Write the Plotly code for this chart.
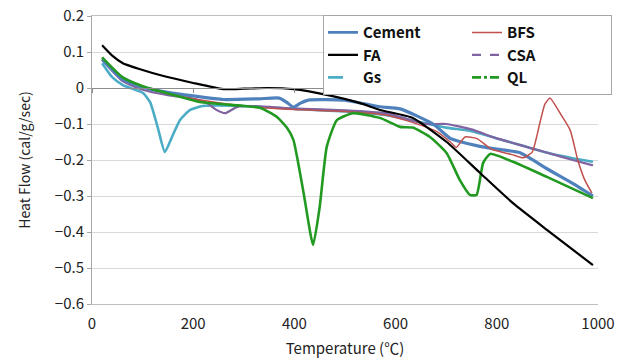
import plotly.graph_objects as go

# ---- data ----
cement_T = [20, 60, 100, 150, 200, 260, 330, 370, 385, 398, 412, 430, 500, 569, 609, 674, 708, 730, 760, 800, 846, 900, 950, 990]
cement_y = [0.080, 0.025, 0.002, -0.012, -0.022, -0.032, -0.030, -0.028, -0.040, -0.053, -0.042, -0.033, -0.034, -0.052, -0.058, -0.100, -0.140, -0.150, -0.160, -0.170, -0.180, -0.225, -0.265, -0.300]

bfs_T = [20, 60, 100, 150, 200, 300, 400, 500, 580, 620, 680, 708, 720, 737, 760, 790, 830, 852, 870, 885, 895, 905, 925, 945, 960, 974, 988]
bfs_y = [0.085, 0.030, 0.005, -0.015, -0.030, -0.050, -0.060, -0.065, -0.075, -0.090, -0.120, -0.150, -0.165, -0.136, -0.140, -0.170, -0.185, -0.194, -0.178, -0.098, -0.045, -0.028, -0.070, -0.117, -0.200, -0.256, -0.292]

fa_T = [20, 40, 61, 100, 134, 200, 259, 300, 346, 398, 464, 530, 569, 634, 701, 767, 832, 899, 990]
fa_y = [0.119, 0.090, 0.069, 0.050, 0.036, 0.014, -0.003, -0.002, 0.000, -0.003, -0.019, -0.042, -0.061, -0.083, -0.150, -0.236, -0.320, -0.394, -0.492]

csa_T = [20, 60, 100, 150, 200, 227, 245, 263, 286, 320, 400, 500, 580, 620, 660, 700, 750, 800, 850, 900, 950, 990]
csa_y = [0.078, 0.020, -0.005, -0.020, -0.030, -0.042, -0.060, -0.070, -0.053, -0.050, -0.057, -0.062, -0.070, -0.085, -0.100, -0.100, -0.115, -0.140, -0.160, -0.180, -0.200, -0.215]

gs_T = [20, 40, 61, 101, 115, 130, 144, 160, 174, 194, 219, 300, 400, 500, 580, 650, 700, 750, 800, 850, 900, 950, 990]
gs_y = [0.069, 0.030, 0.008, -0.014, -0.040, -0.110, -0.178, -0.130, -0.089, -0.061, -0.050, -0.050, -0.058, -0.065, -0.075, -0.095, -0.110, -0.120, -0.140, -0.160, -0.180, -0.195, -0.205]

ql_T = [20, 60, 100, 150, 213, 300, 332, 365, 385, 398, 418, 437, 450, 464, 484, 516, 569, 609, 634, 668, 701, 727, 747, 760, 773, 787, 832, 899, 990]
ql_y = [0.085, 0.030, 0.005, -0.015, -0.039, -0.050, -0.055, -0.080, -0.110, -0.144, -0.290, -0.436, -0.330, -0.163, -0.089, -0.070, -0.083, -0.108, -0.110, -0.136, -0.181, -0.256, -0.297, -0.297, -0.208, -0.183, -0.205, -0.247, -0.306]

x_ticks = [0, 200, 400, 600, 800, 1000]
y_ticks = [0.2, 0.1, 0, -0.1, -0.2, -0.3, -0.4, -0.5, -0.6]
y_tick_text = ["0.2", "0.1", "0", "−0.1", "−0.2", "−0.3", "−0.4", "−0.5", "−0.6"]

# name, T, y, colour, width, legend dash, legend column
series = [
    ("Cement", cement_T, cement_y, "#4F81BD", 3.2, "solid", "c1"),
    ("FA", fa_T, fa_y, "#000000", 2.2, "solid", "c1"),
    ("Gs", gs_T, gs_y, "#4BACC6", 2.6, "longdash", "c1"),
    ("BFS", bfs_T, bfs_y, "#C0504D", 1.5, "solid", "c2"),
    ("CSA", csa_T, csa_y, "#8064A2", 2.2, "dash", "c2"),
    ("QL", ql_T, ql_y, "#229A22", 2.6, "dashdot", "c2"),
]

FONT = "Noto Sans CJK KR"
fig = go.Figure()

draw_order = ["Gs", "CSA", "Cement", "BFS", "QL", "FA"]
lookup = {s[0]: s for s in series}
for name in draw_order:
    n, T, y, c, w, d, g = lookup[name]
    fig.add_trace(go.Scatter(x=T, y=y, mode="lines", line=dict(color=c, width=w, shape="spline", smoothing=0.5),
                             showlegend=False, hoverinfo="skip"))

for n, T, y, c, w, d, g in series:
    fig.add_trace(go.Scatter(x=[None], y=[None], mode="lines", name=n, legendgroup=g,
                             line=dict(color=c, width=min(w, 2.6), dash=d)))

fig.add_trace(go.Scatter(x=[None], y=[None], xaxis="x2", showlegend=False))

# soft shadow behind the legend box (paper coordinates)
fig.add_shape(type="rect", xref="paper", yref="paper",
              x0=(327 - 92) / 506, x1=(601 - 92) / 506, y0=(304 - 92) / 288, y1=(304 - 19) / 288,
              fillcolor="#A8A8A8", line=dict(width=0), layer="above")

fig.update_layout(
    width=632, height=363,
    margin=dict(l=92, r=34, t=16, b=59, autoexpand=False),
    paper_bgcolor="white", plot_bgcolor="white",
    font=dict(family=FONT, color="#222222"),
    xaxis=dict(range=[0, 1000], tickvals=x_ticks, ticks="", showgrid=False, zeroline=False,
               showline=True, linecolor="#BFBFBF", linewidth=1, mirror=True, ticklabelstandoff=6,
               tickfont=dict(size=15, family=FONT, color="#222222"),
               title=dict(text="Temperature (℃)", font=dict(size=15, family=FONT, color="#222222"), standoff=11)),
    xaxis2=dict(range=[0, 1000], tickvals=x_ticks, overlaying="x", anchor="free", position=0.75,
                side="bottom", showticklabels=False, ticks="outside", ticklen=4, tickcolor="#8C8C8C",
                showline=True, linecolor="#8C8C8C", linewidth=1, showgrid=False, zeroline=False),
    yaxis=dict(range=[-0.6, 0.2], tickvals=y_ticks, ticktext=y_tick_text,
               showgrid=True, gridcolor="#D9D9D9", gridwidth=1, zeroline=False,
               showline=True, linecolor="#A6A6A6", linewidth=1, ticks="outside", ticklen=4, tickcolor="#A6A6A6",
               tickfont=dict(size=15, family=FONT, color="#222222"),
               title=dict(text="Heat Flow (cal/g/sec)", font=dict(size=14, family=FONT, color="#222222"), standoff=20)),
    legend=dict(orientation="h", traceorder="grouped", x=(323 - 92) / 506, y=1.003, xanchor="left", yanchor="top",
                bgcolor="white", bordercolor="#A6A6A6", borderwidth=1,
                entrywidth=99, entrywidthmode="pixels", tracegroupgap=0,
                font=dict(size=15, family=FONT, color="#111111", weight="bold")),
)

fig.write_html("out.html")
